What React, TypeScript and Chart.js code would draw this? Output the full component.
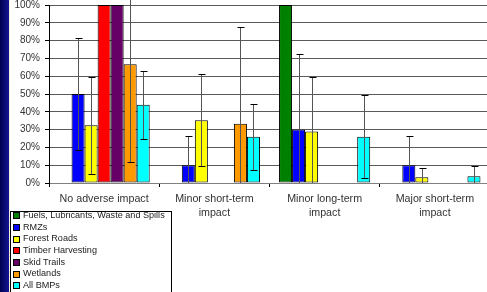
import React, { useEffect, useRef } from "react";
import { Chart, registerables } from "chart.js";
Chart.register(...registerables);

const categories: string[][] = [
  ["No adverse impact"],
  ["Minor short-term", "impact"],
  ["Minor long-term", "impact"],
  ["Major short-term", "impact"],
];
const seriesNames = [
  "Fuels, Lubricants, Waste and Spills",
  "RMZs",
  "Forest Roads",
  "Timber Harvesting",
  "Skid Trails",
  "Wetlands",
  "All BMPs",
];
const seriesColors = ["#008000", "#0000ff", "#ffff00", "#ff0000", "#660066", "#ff9900", "#00ffff"];

const fuels = [0, 0, 100, 0];
const rmzs = [50, 10, 30, 10];
const forestRoads = [32.5, 35.3, 29, 3.3];
const timber = [100, 0, 0, 0];
const skidTrails = [100, 0, 0, 0];
const wetlands = [66.7, 33.3, 0, 0];
const allBmps = [44, 26, 26, 3.8];

const fuelsErr = [0, 0, 0, 0];
const rmzsErr = [31.5, 16.4, 42.5, 16.4];
const forestRoadsErr = [27.3, 25.7, 30.3, 5];
const timberErr = [0, 0, 0, 0];
const skidTrailsErr = [0, 0, 0, 0];
const wetlandsErr = [55, 54.5, 0, 0];
const allBmpsErr = [19, 18.5, 23.3, 5.9];

const yMin = 0;
const yMax = 100;
const yStep = 10;

const seriesValues = [fuels, rmzs, forestRoads, timber, skidTrails, wetlands, allBmps];
const seriesErrors = [fuelsErr, rmzsErr, forestRoadsErr, timberErr, skidTrailsErr, wetlandsErr, allBmpsErr];

const FONT = "Arial, 'Liberation Sans', sans-serif";

const errorBarPlugin = {
  id: "errorBars",
  afterDatasetsDraw(chart: any) {
    const { ctx, chartArea } = chart;
    const yScale = chart.scales.y;
    ctx.save();
    ctx.beginPath();
    ctx.rect(chartArea.left, 0, chartArea.right - chartArea.left, chartArea.bottom);
    ctx.clip();
    chart.data.datasets.forEach((ds: any, di: number) => {
      const meta = chart.getDatasetMeta(di);
      const errs: number[] = ds.errors || [];
      meta.data.forEach((el: any, i: number) => {
        const v = ds.data[i];
        const e = errs[i];
        if (!e || v == null) return;
        const x = Math.round(el.x) + 0.5;
        const hi = v + e;
        const lo = v - e;
        const yHi = yScale.getPixelForValue(hi);
        const yLo = yScale.getPixelForValue(lo);
        ctx.lineWidth = 1;
        ctx.strokeStyle = "#555555";
        ctx.beginPath();
        ctx.moveTo(x, Math.round(yHi) + 0.5);
        ctx.lineTo(x, Math.round(yLo) + 0.5);
        ctx.stroke();
        ctx.strokeStyle = "#000000";
        const cap = 3;
        if (hi <= yMax) {
          ctx.beginPath();
          ctx.moveTo(x - cap, Math.round(yHi) + 0.5);
          ctx.lineTo(x + cap + 1, Math.round(yHi) + 0.5);
          ctx.stroke();
        }
        if (lo >= yMin) {
          ctx.beginPath();
          ctx.moveTo(x - cap, Math.round(yLo) + 0.5);
          ctx.lineTo(x + cap + 1, Math.round(yLo) + 0.5);
          ctx.stroke();
        }
      });
    });
    ctx.restore();
  },
};

export default function App() {
  const ref = useRef<HTMLCanvasElement | null>(null);

  useEffect(() => {
    document.body.style.margin = "0";
    const canvas = ref.current;
    if (!canvas) return;
    const chart = new Chart(canvas, {
      type: "bar",
      data: {
        labels: categories as any,
        datasets: seriesNames.map((name, i) => ({
          label: name,
          data: seriesValues[i],
          errors: seriesErrors[i],
          backgroundColor: seriesColors[i],
          borderColor: "#000000",
          borderWidth: 1,
          borderSkipped: false,
          barPercentage: 1,
          categoryPercentage: 0.827,
        })) as any,
      },
      options: {
        animation: false,
        responsive: true,
        maintainAspectRatio: false,
        devicePixelRatio: 1,
        layout: { padding: { left: 0, top: 5, right: 5, bottom: 69 } },
        plugins: {
          legend: { display: false },
          tooltip: { enabled: false },
          title: { display: false },
        },
        scales: {
          x: {
            offset: true,
            grid: {
              display: true,
              offset: true,
              drawOnChartArea: false,
              drawTicks: true,
              tickLength: 4,
              tickColor: "#000000",
            },
            border: { display: true, color: "#808080", width: 1 },
            ticks: {
              color: "#333333",
              padding: 5,
              maxRotation: 0,
              autoSkip: false,
              font: { family: FONT, size: 10.7, lineHeight: 1.3 },
            },
            afterFit(scale: any) {
              scale.height = 40;
              scale.paddingLeft = 0;
              scale.paddingRight = 0;
            },
          },
          y: {
            min: yMin,
            max: yMax,
            grid: {
              color: "#5a5a5a",
              lineWidth: 1,
              drawTicks: true,
              tickLength: 4,
              tickColor: "#000000",
            },
            border: { display: true, color: "#000000", width: 1 },
            ticks: {
              stepSize: yStep,
              color: "#333333",
              padding: 5,
              font: { family: FONT, size: 10 },
              callback: (v: any) => v + "%",
            },
            afterFit(scale: any) {
              scale.width = 49;
              scale.paddingTop = 0;
              scale.paddingBottom = 0;
            },
          },
        },
      } as any,
      plugins: [errorBarPlugin],
    });
    return () => chart.destroy();
  }, []);

  return (
    <div
      style={{
        position: "absolute",
        left: 0,
        top: 0,
        width: 487,
        height: 292,
        overflow: "hidden",
        background: "#ffffff",
        fontFamily: FONT,
      }}
    >
      <div style={{ position: "absolute", left: 0, top: 0, width: 495, height: 292 }}>
        <canvas ref={ref} />
      </div>
      <div
        style={{
          position: "absolute",
          left: 0,
          top: 0,
          width: 9,
          height: 292,
          background: "linear-gradient(to right, #000050, #141496)",
          borderRight: "1px solid #eeeed8",
        }}
      />
      <div
        style={{
          position: "absolute",
          left: 10,
          top: 211,
          width: 162,
          height: 100,
          border: "1px solid #000000",
          background: "#ffffff",
          boxSizing: "border-box",
        }}
      >
        <div style={{ marginTop: -2 }}>
          {seriesNames.map((name, i) => (
            <div
              key={name}
              style={{
                display: "flex",
                alignItems: "center",
                height: 11.67,
                lineHeight: "11.67px",
                fontSize: 9.1,
                color: "#222222",
                whiteSpace: "nowrap",
              }}
            >
              <span
                style={{
                  display: "inline-block",
                  width: 7,
                  height: 7,
                  boxSizing: "border-box",
                  border: "1px solid #000000",
                  background: seriesColors[i],
                  marginLeft: 2,
                  marginRight: 3,
                  flex: "0 0 auto",
                }}
              />
              <span>{name}</span>
            </div>
          ))}
        </div>
      </div>
    </div>
  );
}
